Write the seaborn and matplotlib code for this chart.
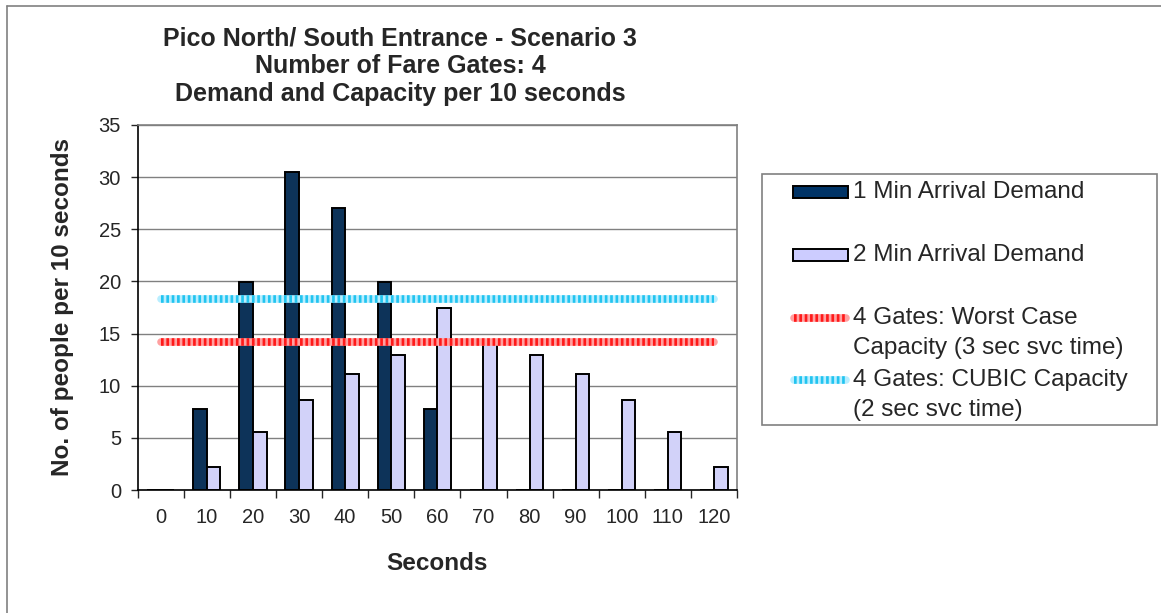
import numpy as np
import pandas as pd
import seaborn as sns
from matplotlib import pyplot as plt
from matplotlib.patches import Rectangle
from matplotlib.lines import Line2D

# data
seconds = ['0', '10', '20', '30', '40', '50', '60', '70', '80', '90', '100', '110', '120']
one_min = [0, 7.8, 19.9, 30.5, 27.0, 19.9, 7.8, 0, 0, 0, 0, 0, 0]
two_min = [0, 2.2, 5.6, 8.6, 11.1, 12.9, 17.5, 14.1, 12.9, 11.1, 8.6, 5.6, 2.2]
worst_case = [14.2, 14.2, 14.2, 14.2, 14.2, 14.2, 14.2, 14.2, 14.2, 14.2, 14.2, 14.2, 14.2]
cubic = [18.3, 18.3, 18.3, 18.3, 18.3, 18.3, 18.3, 18.3, 18.3, 18.3, 18.3, 18.3, 18.3]

series_names = ['1 Min Arrival Demand', '2 Min Arrival Demand']
line_names = ['4 Gates: Worst Case\nCapacity (3 sec svc time)',
              '4 Gates: CUBIC Capacity\n(2 sec svc time)']

navy = '#003366'
lavender = '#CCCCFF'
# patterned lines: light base + dotted strong colour on top
red_light, red = '#FFA0A0', '#FF1A1A'
cyan_light, cyan = '#B8EEFF', '#22C4F0'

sns.set_style('white')
plt.rcParams['font.family'] = ['Liberation Sans', 'DejaVu Sans']

df = pd.DataFrame({
    'Seconds': seconds * 2,
    'People': one_min + two_min,
    'Series': [series_names[0]] * len(seconds) + [series_names[1]] * len(seconds),
})

W, H = 1161, 613
fig = plt.figure(figsize=(W / 100, H / 100), dpi=100)
ax = fig.add_axes([137.7 / W, 1 - 490 / H, (737 - 137.7) / W, (490 - 125) / H])

sns.barplot(data=df, x='Seconds', y='People', hue='Series', order=seconds,
            hue_order=series_names, palette=[navy, lavender], width=0.59,
            edgecolor='black', linewidth=1.4, legend=False, ax=ax, zorder=2)

pos = np.arange(len(seconds))
for vals, light, strong in [(worst_case, red_light, red), (cubic, cyan_light, cyan)]:
    sns.lineplot(x=pos, y=vals, color=light, lw=5.5, solid_capstyle='round', ax=ax, zorder=3)
    sns.lineplot(x=pos, y=vals, color=strong, lw=5.5, linestyle=(0, (0.35, 0.35)),
                 dash_capstyle='butt', ax=ax, zorder=3)

ax.set_xlim(-0.5, len(seconds) - 0.5)
ax.set_ylim(0, 35)
ax.set_yticks(range(0, 36, 5))
ax.yaxis.grid(True, color='#808080', lw=1)
ax.set_axisbelow(True)

ax.spines['left'].set_color('black')
ax.spines['bottom'].set_color('black')
ax.spines['top'].set_color('#808080')
ax.spines['right'].set_color('#808080')
for s in ax.spines.values():
    s.set_linewidth(1.2)

ax.tick_params(axis='y', which='major', left=True, length=5, width=1, pad=7, labelsize=14.5)
ax.tick_params(axis='x', which='major', bottom=False, length=0, pad=13, labelsize=14.5)
ax.set_xticks(np.arange(-0.5, len(seconds), 1), minor=True)
ax.tick_params(axis='x', which='minor', bottom=True, length=6, width=1)

ax.set_xlabel('Seconds', fontsize=17.5, fontweight='bold')
ax.set_ylabel('No. of people per 10 seconds', fontsize=17.5, fontweight='bold')
ax.xaxis.set_label_coords(0.5, (490 - 552) / 365)
ax.yaxis.set_label_coords((74 - 137.7) / 599, 0.5)

fig.text(400 / W, 1 - 66 / H,
         'Pico North/ South Entrance - Scenario 3\nNumber of Fare Gates: 4\nDemand and Capacity per 10 seconds',
         ha='center', va='center', fontsize=18, fontweight='bold', linespacing=1.2)

# outer chart border (left and top only visible)
fig.add_artist(Line2D([7 / W, 7 / W], [0, 1 - 6 / H], color='#808080', lw=1.2))
fig.add_artist(Line2D([7 / W, 1], [1 - 6 / H, 1 - 6 / H], color='#808080', lw=1.2))

# legend, laid out like the Excel one
def fx(px):
    return px / W

def fy(py):
    return 1 - py / H

fig.add_artist(Rectangle((fx(761.7), fy(425)), fx(1157) - fx(761.7), fy(174) - fy(425),
                         fill=False, edgecolor='#808080', lw=1.2))
for yc, col, name in [(192, navy, series_names[0]), (255, lavender, series_names[1])]:
    fig.add_artist(Rectangle((fx(793), fy(yc + 6)), fx(848) - fx(793), fy(yc - 6) - fy(yc + 6),
                             facecolor=col, edgecolor='black', lw=1.4))
    fig.text(fx(853), fy(yc), name, ha='left', va='center', fontsize=17.5)
for yc, light, strong, name in [(318, red_light, red, line_names[0]),
                                (380, cyan_light, cyan, line_names[1])]:
    fig.add_artist(Line2D([fx(794), fx(846)], [fy(yc), fy(yc)], color=light, lw=5.5,
                          solid_capstyle='round'))
    fig.add_artist(Line2D([fx(794), fx(846)], [fy(yc), fy(yc)], color=strong, lw=5.5,
                          linestyle=(0, (0.35, 0.35)), dash_capstyle='butt'))
    first, second = name.split('\n')
    fig.text(fx(853), fy(yc), first, ha='left', va='center', fontsize=17.5)
    fig.text(fx(853), fy(yc + 30), second, ha='left', va='center', fontsize=17.5)

fig.savefig('out.png', dpi=100)
